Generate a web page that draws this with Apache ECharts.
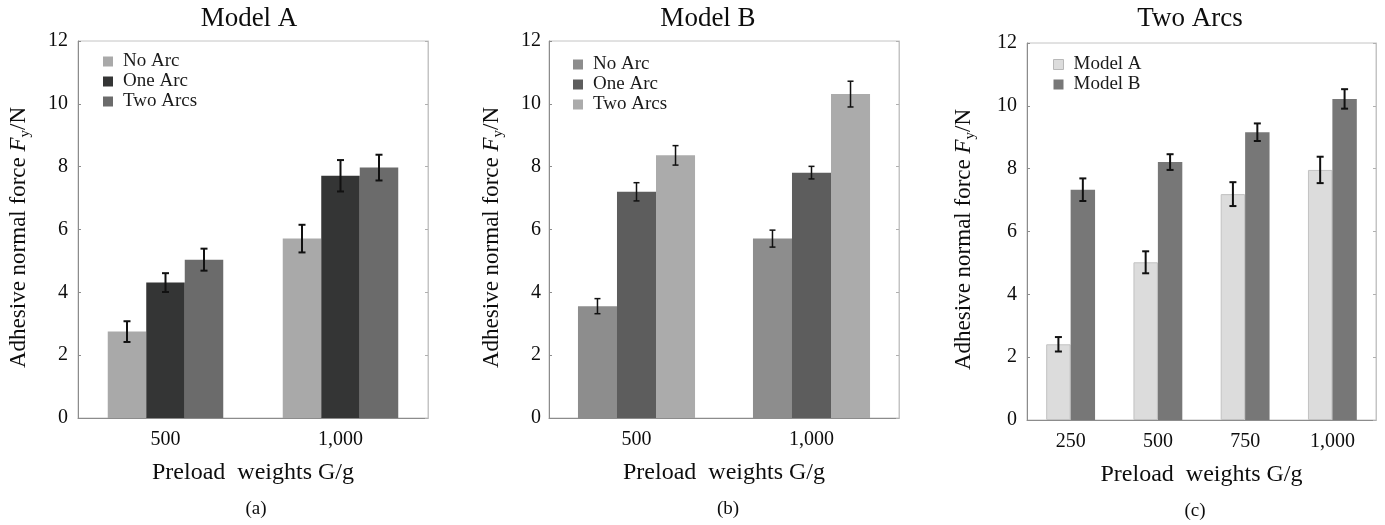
<!DOCTYPE html>
<html>
<head>
<meta charset="utf-8">
<script src="https://cdn.jsdelivr.net/npm/echarts@6/dist/echarts.min.js"></script>
<style>
  html, body { margin: 0; padding: 0; background: #fff; }
  #chart { width: 1385px; height: 525px; }
</style>
</head>
<body>
<div id="chart"></div>
<script>
// ---------- data ----------
const catsAB = ['500', '1,000'];
const catsC = ['250', '500', '750', '1,000'];
const yTicks = [0, 2, 4, 6, 8, 10, 12];

// Panel (a) Model A
const aNoArc = [2.75, 5.71];
const aNoArcErr = [0.33, 0.44];
const aOneArc = [4.31, 7.71];
const aOneArcErr = [0.30, 0.50];
const aTwoArcs = [5.04, 7.97];
const aTwoArcsErr = [0.35, 0.41];

// Panel (b) Model B
const bNoArc = [3.56, 5.71];
const bNoArcErr = [0.24, 0.27];
const bOneArc = [7.20, 7.81];
const bOneArcErr = [0.29, 0.20];
const bTwoArcs = [8.36, 10.31];
const bTwoArcsErr = [0.31, 0.41];

// Panel (c) Two Arcs
const cModelA = [2.41, 5.02, 7.19, 7.96];
const cModelAErr = [0.23, 0.35, 0.38, 0.42];
const cModelB = [7.33, 8.21, 9.16, 10.22];
const cModelBErr = [0.36, 0.25, 0.28, 0.31];

// ---------- styling ----------
const FONT = 'Liberation Serif';
const TXT = '#0d0d0d';
const grids = [
  { left: 78, top: 41, width: 350, height: 377 },
  { left: 549, top: 41, width: 350, height: 377 },
  { left: 1027, top: 43, width: 349, height: 377 }
];

function xAxis(gi, cats) {
  return {
    type: 'category', gridIndex: gi, data: cats,
    axisLine: { lineStyle: { color: '#8c8c8c', width: 1 } },
    axisTick: { show: false },
    axisLabel: { color: TXT, fontFamily: FONT, fontSize: 20, margin: 12 },
    name: 'Preload  weights G/g', nameLocation: 'middle', nameGap: 43,
    nameTextStyle: { color: TXT, fontFamily: FONT, fontSize: 24 }
  };
}
function yAxisLeft(gi, gap, margin) {
  return {
    type: 'value', gridIndex: gi, min: 0, max: 12, interval: 2, position: 'left',
    axisLine: { show: true, lineStyle: { color: '#8c8c8c', width: 1 } },
    axisTick: { show: true, inside: true, length: 3, lineStyle: { color: '#8c8c8c' } },
    splitLine: { show: false },
    axisLabel: { color: TXT, fontFamily: FONT, fontSize: 20, margin: margin,
      formatter: v => (yTicks.indexOf(v) >= 0 ? String(v) : '') },
    name: '{n|Adhesive normal force }{f|F}{s|y}{n|/N}',
    nameLocation: 'middle', nameRotate: 90, nameGap: gap,
    nameTextStyle: {
      padding: [0, 16, 0, 0],
      rich: {
        n: { fontFamily: FONT, fontSize: 23, color: TXT, lineHeight: 28 },
        f: { fontFamily: FONT, fontSize: 23, fontStyle: 'italic', color: TXT, lineHeight: 28 },
        s: { fontFamily: FONT, fontSize: 15, color: TXT, verticalAlign: 'bottom', lineHeight: 28 }
      }
    }
  };
}
function yAxisRight(gi) {
  return {
    type: 'value', gridIndex: gi, min: 0, max: 12, interval: 2, position: 'right',
    axisLine: { show: true, lineStyle: { color: '#c4c4c4', width: 1 } },
    axisTick: { show: true, inside: true, length: 3, lineStyle: { color: '#b0b0b0' } },
    splitLine: { show: false },
    axisLabel: { show: false }
  };
}

function barSeries(gi, name, values, color, widthPct, border) {
  return {
    type: 'bar', name: name, xAxisIndex: gi, yAxisIndex: gi * 2,
    data: values, barWidth: widthPct + '%', barGap: '0%',
    itemStyle: { color: color, borderColor: border || color, borderWidth: border ? 1 : 0 },
    emphasis: { disabled: true }
  };
}

function errSeries(gi, values, errs, idx, n, frac, lw, cap) {
  return {
    type: 'custom', xAxisIndex: gi, yAxisIndex: gi * 2, z: 10, silent: true,
    data: values.map((v, i) => [i, v - errs[i], v + errs[i]]),
    renderItem: function (params, api) {
      const c = api.value(0);
      const lo = api.coord([c, api.value(1)]);
      const hi = api.coord([c, api.value(2)]);
      const bw = api.size([1, 0])[0];
      const x = lo[0] + bw * frac * (idx - (n - 1) / 2);
      const st = { stroke: '#111', lineWidth: lw };
      return {
        type: 'group',
        children: [
          { type: 'line', shape: { x1: x, y1: lo[1], x2: x, y2: hi[1] }, style: st },
          { type: 'line', shape: { x1: x - cap, y1: lo[1], x2: x + cap, y2: lo[1] }, style: st },
          { type: 'line', shape: { x1: x - cap, y1: hi[1], x2: x + cap, y2: hi[1] }, style: st }
        ]
      };
    }
  };
}

function legend(left, top, items) {
  return {
    left: left, top: top, orient: 'vertical', icon: 'rect', padding: 0,
    itemWidth: 10, itemHeight: 10, itemGap: 1, selectedMode: false,
    textStyle: { fontFamily: FONT, fontSize: 19, color: '#1a1a1a', padding: [0, 0, 0, 5] },
    data: items
  };
}

const colA = ['#a9a9a9', '#343535', '#6b6b6b'];
const colB = ['#8d8d8d', '#5d5d5d', '#ababab'];
const colC = ['#dcdcdc', '#777777'];

function titleAt(text, x, y, size) {
  return { text: text, left: x, top: y, textAlign: 'center', padding: 0,
    textStyle: { fontFamily: FONT, fontSize: size, fontWeight: 'normal', color: TXT } };
}

const option = {
  animation: false,
  backgroundColor: '#ffffff',
  title: [
    titleAt('Model A', 249, 5, 27),
    titleAt('Model B', 708, 5, 27),
    titleAt('Two Arcs', 1190, 5, 27),
    titleAt('(a)', 256, 500, 19),
    titleAt('(b)', 728, 500, 19),
    titleAt('(c)', 1195, 502, 19)
  ],
  grid: grids.map(g => Object.assign({ show: true, borderColor: '#c4c4c4', borderWidth: 1, backgroundColor: 'transparent' }, g)),
  legend: [
    legend(103, 52, [
      { name: 'No Arc', itemStyle: { color: colA[0] } },
      { name: 'One Arc', itemStyle: { color: colA[1] } },
      { name: 'Two Arcs', itemStyle: { color: colA[2] } }
    ]),
    legend(573, 55, [
      { name: 'No Arc', itemStyle: { color: colB[0] } },
      { name: 'One Arc', itemStyle: { color: colB[1] } },
      { name: 'Two Arcs', itemStyle: { color: colB[2] } }
    ]),
    legend(1053, 55, [
      { name: 'Model A', itemStyle: { color: colC[0], borderColor: '#b8b8b8', borderWidth: 1 } },
      { name: 'Model B', itemStyle: { color: colC[1] } }
    ])
  ],
  xAxis: [xAxis(0, catsAB), xAxis(1, catsAB), xAxis(2, catsC)],
  yAxis: [
    yAxisLeft(0, 45, 10), yAxisRight(0),
    yAxisLeft(1, 43, 8), yAxisRight(1),
    yAxisLeft(2, 49, 10), yAxisRight(2)
  ],
  series: [
    barSeries(0, 'No Arc', aNoArc, colA[0], 22),
    barSeries(0, 'One Arc', aOneArc, colA[1], 22),
    barSeries(0, 'Two Arcs', aTwoArcs, colA[2], 22),
    errSeries(0, aNoArc, aNoArcErr, 0, 3, 0.22, 2, 3.5),
    errSeries(0, aOneArc, aOneArcErr, 1, 3, 0.22, 2, 3.5),
    errSeries(0, aTwoArcs, aTwoArcsErr, 2, 3, 0.22, 2, 3.5),

    barSeries(1, 'No Arc', bNoArc, colB[0], 22.3),
    barSeries(1, 'One Arc', bOneArc, colB[1], 22.3),
    barSeries(1, 'Two Arcs', bTwoArcs, colB[2], 22.3),
    errSeries(1, bNoArc, bNoArcErr, 0, 3, 0.223, 1.5, 3),
    errSeries(1, bOneArc, bOneArcErr, 1, 3, 0.223, 1.5, 3),
    errSeries(1, bTwoArcs, bTwoArcsErr, 2, 3, 0.223, 1.5, 3),

    barSeries(2, 'Model A', cModelA, colC[0], 28, '#c2c2c2'),
    barSeries(2, 'Model B', cModelB, colC[1], 28),
    errSeries(2, cModelA, cModelAErr, 0, 2, 0.28, 2, 3.5),
    errSeries(2, cModelB, cModelBErr, 1, 2, 0.28, 2, 3.5)
  ]
};

const chart = echarts.init(document.getElementById('chart'), null, { renderer: 'canvas' });
chart.setOption(option);
</script>
</body>
</html>
